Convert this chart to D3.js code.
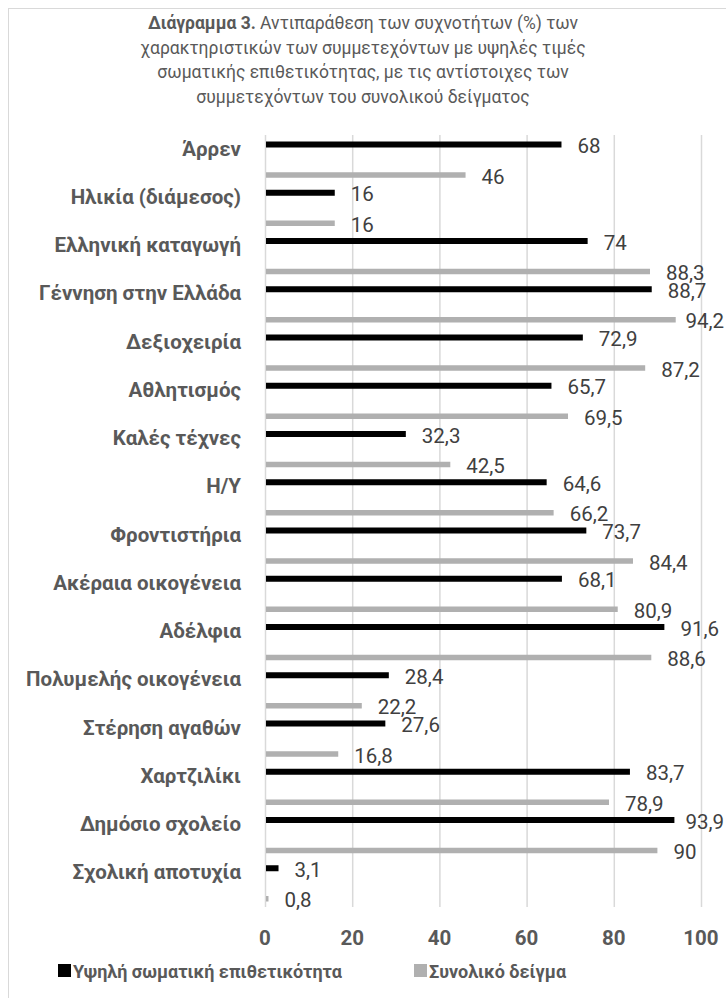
<!DOCTYPE html>
<html><head><meta charset="utf-8">
<script src="https://cdn.jsdelivr.net/npm/d3@7"></script>
<style>body{margin:0;background:#fff;} text{font-family:Roboto,"Noto Sans",sans-serif;}</style>
</head><body>
<svg id="c" width="726" height="998"></svg>
<script>
const categories = ["Άρρεν","Ηλικία (διάμεσος)","Ελληνική καταγωγή","Γέννηση στην Ελλάδα","Δεξιοχειρία","Αθλητισμός","Καλές τέχνες","Η/Υ","Φροντιστήρια","Ακέραια οικογένεια","Αδέλφια","Πολυμελής οικογένεια","Στέρηση αγαθών","Χαρτζιλίκι","Δημόσιο σχολείο","Σχολική αποτυχία"];
const highAggression = [68,16,74,88.7,72.9,65.7,32.3,64.6,73.7,68.1,91.6,28.4,27.6,83.7,93.9,3.1];
const totalSample = [46,16,88.3,94.2,87.2,69.5,42.5,66.2,84.4,80.9,88.6,22.2,16.8,78.9,90,0.8];
const seriesNames = ["Υψηλή σωματική επιθετικότητα","Συνολικό δείγμα"];
const xTicks = [0,20,40,60,80,100];
const titleLines = [
  [["Διάγραμμα 3.",true],[" Αντιπαράθεση των συχνοτήτων (%) των",false]],
  [["χαρακτηριστικών των συμμετεχόντων με υψηλές τιμές",false]],
  [["σωματικής επιθετικότητας, με τις αντίστοιχες των",false]],
  [["συμμετεχόντων του συνολικού δείγματος",false]]
];

const svg = d3.select("#c");
const colors = ["#000000","#b0b0b0"];
const series = [highAggression,totalSample];

// border
svg.append("rect").attr("x",8.5).attr("y",8.5).attr("width",740).attr("height",1010)
  .attr("fill","none").attr("stroke","#d9d9d9").attr("stroke-width",1);

// title
const title = svg.append("text").attr("text-anchor","middle").attr("fill","#595959").attr("font-size",17.5);
titleLines.forEach((line,i)=>{
  line.forEach(([s,b],j)=>{
    const sp = title.append("tspan").text(s).attr("font-weight",b?"bold":"normal");
    if(j===0) sp.attr("x",363).attr("y",29+i*24.5);
  });
});

const x = d3.scaleLinear().domain([0,100]).range([265,701]);
const y = d3.scaleBand().domain(categories).range([135,907]);
const inner = d3.scalePoint().domain([0,1]).range([9.5,40]);
const barH = [6,5.5];

// gridlines
svg.append("g").selectAll("line").data(xTicks).join("line")
  .attr("x1",d=>x(d)+0.5).attr("x2",d=>x(d)+0.5).attr("y1",135).attr("y2",907)
  .attr("stroke","#d9d9d9").attr("stroke-width",1.5);

// bars
series.forEach((vals,si)=>{
  const g = svg.append("g");
  g.selectAll("rect").data(vals).join("rect")
    .attr("x",x(0)+1).attr("width",d=>Math.max(0,x(d)-x(0)-1))
    .attr("y",(d,i)=>y(categories[i])+inner(si)-barH[si]/2).attr("height",barH[si])
    .attr("fill",colors[si]);
  g.selectAll("text").data(vals).join("text")
    .attr("y",(d,i)=>y(categories[i])+inner(si)+1.5)
    .attr("dominant-baseline","central").attr("font-size",20.5).attr("fill","#404040")
    .text(d=>String(d).replace(".",","))
    .attr("x",function(d){ const w=this.getComputedTextLength(); return Math.min(x(d)+16, 724-w); });
});

// category labels
svg.append("g").selectAll("text").data(categories).join("text")
  .attr("x",241).attr("y",d=>y(d)+inner(0)+4)
  .attr("text-anchor","end").attr("dominant-baseline","central")
  .attr("font-size",20.5).attr("font-weight","bold").attr("fill","#595959").text(d=>d);

// x tick labels
svg.append("g").selectAll("text").data(xTicks).join("text")
  .attr("x",d=>x(d)).attr("y",938).attr("text-anchor","middle").attr("dominant-baseline","central")
  .attr("font-size",20.5).attr("font-weight","bold").attr("fill","#595959").text(d=>d);

// legend
const legX = [58,414];
seriesNames.forEach((n,i)=>{
  svg.append("rect").attr("x",legX[i]).attr("y",964).attr("width",13).attr("height",13).attr("fill",colors[i]);
  svg.append("text").attr("x",legX[i]+15).attr("y",971).attr("dominant-baseline","central")
    .attr("font-size",18).attr("font-weight","bold").attr("fill","#595959").text(n);
});
</script>
</body></html>
